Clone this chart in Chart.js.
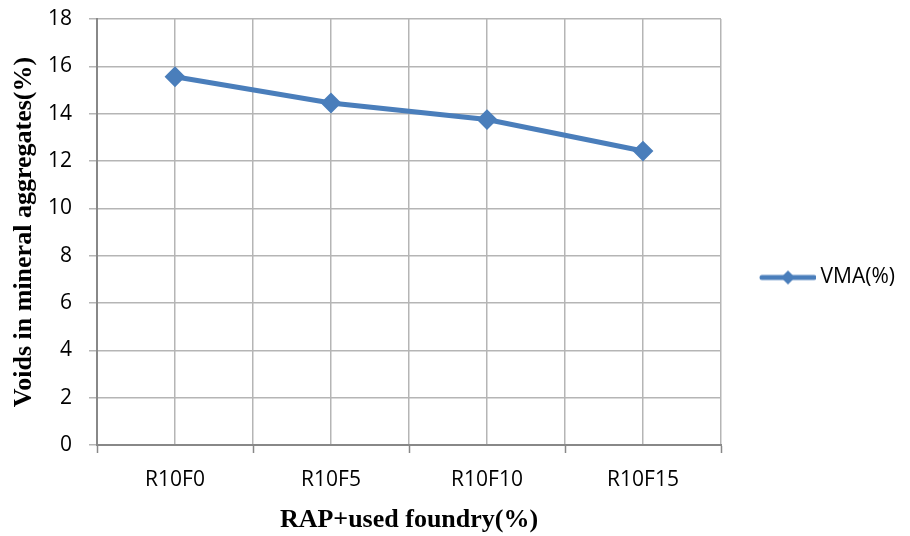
<!DOCTYPE html>
<html>
<head>
<meta charset="utf-8">
<title>VMA(%)</title>
<script src="https://cdn.jsdelivr.net/npm/chart.js@4"></script>
<style>
  html, body { margin: 0; padding: 0; background: #ffffff; }
  #wrap { width: 910px; height: 536px; }
</style>
</head>
<body>
<div id="wrap"><canvas id="chart" width="910" height="536"></canvas></div>
<script>
// Mixes: RAP content with increasing share of used foundry sand
const categories = ['R10F0', 'R10F5', 'R10F10', 'R10F15'];
const vmaValues = [15.56, 14.45, 13.75, 12.42];
const seriesName = 'VMA(%)';
const yTickMin = 0;
const yTickMax = 18;
const yTickStep = 2;
const xTitle = 'RAP+used foundry(%)';
const yTitle = 'Voids in mineral aggregates(%)';

const BLUE = '#4a7ebb';
const GRID = '#b5b5b5';
const AXIS = '#888888';
const TICK_FONT = { family: "'Open Sans', 'Noto Sans', sans-serif", size: 21 };
const TITLE_FONT = { family: "'Liberation Serif', 'Times New Roman', serif", size: 26, weight: 'bold' };

// Legend symbol: a short line with a diamond marker on it
function legendSymbol() {
  const c = document.createElement('canvas');
  c.width = 62; c.height = 20;
  const g = c.getContext('2d');
  g.strokeStyle = BLUE;
  g.lineWidth = 5;
  g.lineCap = 'round';
  g.beginPath();
  g.moveTo(8, 10);
  g.lineTo(60, 10);
  g.stroke();
  g.fillStyle = BLUE;
  g.beginPath();
  g.moveTo(34, 3);
  g.lineTo(41, 10);
  g.lineTo(34, 17);
  g.lineTo(27, 10);
  g.closePath();
  g.fill();
  return c;
}
const symbol = legendSymbol();

new Chart(document.getElementById('chart'), {
  type: 'line',
  data: {
    labels: categories,
    datasets: [{
      label: seriesName,
      data: vmaValues,
      borderColor: BLUE,
      backgroundColor: BLUE,
      borderWidth: 5,
      tension: 0,
      fill: false,
      pointStyle: 'rectRot',
      pointRadius: 9,
      pointBorderWidth: 2,
      pointBackgroundColor: BLUE,
      pointBorderColor: BLUE,
      xAxisID: 'x',
      yAxisID: 'y'
    }]
  },
  options: {
    responsive: false,
    animation: false,
    devicePixelRatio: 1,
    layout: { padding: { left: 0, right: 10, top: 19, bottom: 0 } },
    plugins: {
      tooltip: { enabled: false },
      legend: {
        position: 'right',
        align: 'center',
        labels: {
          usePointStyle: true,
          pointStyleWidth: 50,
          padding: 10,
          color: '#000000',
          font: TICK_FONT,
          generateLabels: (chart) => chart.data.datasets.map((ds, i) => ({
            text: ds.label,
            pointStyle: symbol,
            fillStyle: BLUE,
            strokeStyle: BLUE,
            lineWidth: 0,
            hidden: false,
            datasetIndex: i
          }))
        }
      }
    },
    scales: {
      x: {
        type: 'category',
        position: 'bottom',
        offset: true,
        grid: {
          drawOnChartArea: false,
          drawTicks: true,
          tickLength: 8,
          tickColor: AXIS,
          tickWidth: 1.5,
          offset: true
        },
        border: { display: true, color: AXIS, width: 2 },
        ticks: { color: '#000000', font: TICK_FONT, padding: 14, maxRotation: 0 },
        title: { display: true, text: xTitle, color: '#000000', font: TITLE_FONT, padding: { top: 0, bottom: 0 } },
        afterFit: (s) => { s.height = 91; }
      },
      // half-category grid: lines at every category centre and boundary
      xGrid: {
        type: 'linear',
        position: 'top',
        min: -0.5,
        max: 3.5,
        ticks: { display: false, stepSize: 0.5 },
        grid: { color: GRID, lineWidth: 1.5, drawTicks: false },
        border: { display: false },
        afterFit: (s) => { s.height = 0; }
      },
      y: {
        type: 'linear',
        position: 'left',
        min: yTickMin,
        max: yTickMax,
        ticks: { stepSize: yTickStep, color: '#000000', font: TICK_FONT, padding: 17 },
        grid: { color: GRID, lineWidth: 1.5, tickLength: 8, tickColor: GRID },
        border: { display: true, color: AXIS, width: 2 },
        title: { display: true, text: yTitle, color: '#000000', font: TITLE_FONT, padding: { top: 9, bottom: 0 } },
        afterFit: (s) => { s.width = 97; s.paddingTop = 0; s.paddingBottom = 0; }
      },
      // spacer between plot and legend
      ySpace: {
        type: 'linear',
        position: 'right',
        display: true,
        ticks: { display: false },
        grid: { display: false, drawTicks: false },
        border: { display: false },
        afterFit: (s) => { s.width = 29; s.paddingTop = 0; s.paddingBottom = 0; }
      }
    }
  }
});
</script>
</body>
</html>
